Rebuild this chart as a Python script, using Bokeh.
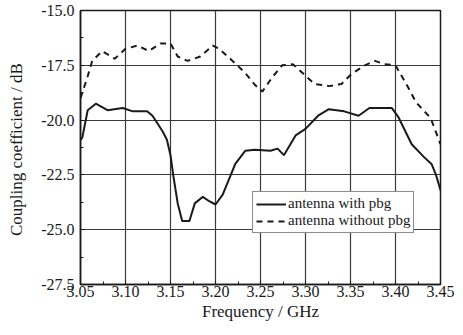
from bokeh.plotting import figure
from bokeh.models import (Range1d, FixedTicker, PrintfTickFormatter, Legend, LegendItem)
from bokeh.embed import file_html
from bokeh.resources import INLINE

# Data
freq_with = [3.050, 3.052, 3.058, 3.067, 3.080, 3.097, 3.108, 3.124, 3.130, 3.141,
             3.146, 3.150, 3.153, 3.158, 3.163, 3.171, 3.177, 3.186, 3.193, 3.200,
             3.208, 3.217, 3.222, 3.233, 3.244, 3.261, 3.269, 3.276, 3.289, 3.300,
             3.314, 3.326, 3.343, 3.359, 3.371, 3.396, 3.403, 3.418, 3.432, 3.440,
             3.445, 3.450]
coup_with = [-20.9, -20.8, -19.55, -19.25, -19.55, -19.45, -19.6, -19.6, -19.8, -20.5,
             -20.9, -21.6, -22.5, -23.8, -24.6, -24.6, -23.8, -23.5, -23.7, -23.85,
             -23.4, -22.5, -22.0, -21.4, -21.35, -21.4, -21.3, -21.6, -20.7, -20.4,
             -19.8, -19.5, -19.6, -19.8, -19.45, -19.45, -19.85, -21.1, -21.7, -22.0,
             -22.5, -23.2]

freq_without = [3.050, 3.058, 3.063, 3.074, 3.088, 3.100, 3.113, 3.126, 3.139, 3.150,
                3.158, 3.169, 3.183, 3.197, 3.204, 3.219, 3.233, 3.244, 3.252, 3.263,
                3.274, 3.286, 3.298, 3.310, 3.326, 3.340, 3.351, 3.366, 3.377, 3.388,
                3.400, 3.412, 3.423, 3.439, 3.450]
coup_without = [-19.0, -18.0, -17.3, -16.85, -17.2, -16.75, -16.6, -16.85, -16.5, -16.5,
                -17.1, -17.3, -17.1, -16.6, -16.75, -17.3, -17.85, -18.4, -18.7, -18.05,
                -17.5, -17.45, -17.9, -18.35, -18.45, -18.35, -17.9, -17.5, -17.3, -17.45,
                -17.5, -18.35, -19.2, -19.9, -21.1]

x_ticks = [3.05, 3.10, 3.15, 3.20, 3.25, 3.30, 3.35, 3.40, 3.45]
x_minor = [3.075, 3.125, 3.175, 3.225, 3.275, 3.325, 3.375, 3.425]
y_ticks = [-27.5, -25.0, -22.5, -20.0, -17.5, -15.0]
y_minor = [-26.25, -23.75, -21.25, -18.75, -16.25]

label_with = "antenna with pbg"
label_without = "antenna without pbg"
x_label = "Frequency / GHz"
y_label = "Coupling  coefficient / dB"

FONT = "Liberation Serif"
INK = "#1a1a1a"

p = figure(width=455, height=327, output_backend="svg", toolbar_location=None,
           x_range=Range1d(3.05, 3.45), y_range=Range1d(-27.5, -15.0),
           min_border_left=80, min_border_right=15, min_border_top=10,
           min_border_bottom=43)

p.background_fill_color = "white"
p.border_fill_color = "white"
p.outline_line_color = INK
p.outline_line_width = 1.5

p.xaxis.ticker = FixedTicker(ticks=x_ticks, minor_ticks=x_minor)
p.yaxis.ticker = FixedTicker(ticks=y_ticks, minor_ticks=y_minor)
p.xaxis.formatter = PrintfTickFormatter(format="%.2f")
p.yaxis.formatter = PrintfTickFormatter(format="%.1f")

for ax in (p.xaxis, p.yaxis):
    ax.axis_line_color = INK
    ax.axis_line_width = 1.5
    ax.major_tick_in = 4
    ax.major_tick_out = 0
    ax.minor_tick_in = 3
    ax.minor_tick_out = 0
    ax.major_tick_line_color = INK
    ax.minor_tick_line_color = INK
    ax.major_label_text_font = FONT
    ax.major_label_text_font_size = "16px"
    ax.major_label_text_color = INK
    ax.axis_label_text_font = FONT
    ax.axis_label_text_font_size = "17px"
    ax.axis_label_text_font_style = "normal"
    ax.axis_label_text_color = INK

p.xaxis.axis_label = x_label
p.yaxis.axis_label = y_label
p.xaxis.major_label_standoff = 1
p.yaxis.major_label_standoff = 6
p.xaxis.axis_label_standoff = 2
p.yaxis.axis_label_standoff = 12

p.xgrid.ticker = FixedTicker(ticks=x_ticks)
p.ygrid.ticker = FixedTicker(ticks=y_ticks)
p.grid.grid_line_color = "#3a3a3a"
p.grid.grid_line_width = 1.2
p.grid.grid_line_alpha = 1.0

r1 = p.line(freq_with, coup_with, line_color=INK, line_width=2)
r2 = p.line(freq_without, coup_without, line_color=INK, line_width=2,
            line_dash="6 5")

legend = Legend(items=[LegendItem(label=label_with, renderers=[r1]),
                       LegendItem(label=label_without, renderers=[r2])],
                location=(172, 51))
legend.label_text_font = FONT
legend.label_text_font_size = "15px"
legend.label_text_color = INK
legend.border_line_color = INK
legend.border_line_width = 1
legend.background_fill_alpha = 1.0
legend.glyph_width = 30
legend.glyph_height = 16
legend.label_height = 16
legend.label_standoff = 2
legend.spacing = 0
legend.padding = 3
legend.margin = 0
p.add_layout(legend, "center")

open("out.html", "w").write(file_html(p, INLINE))
